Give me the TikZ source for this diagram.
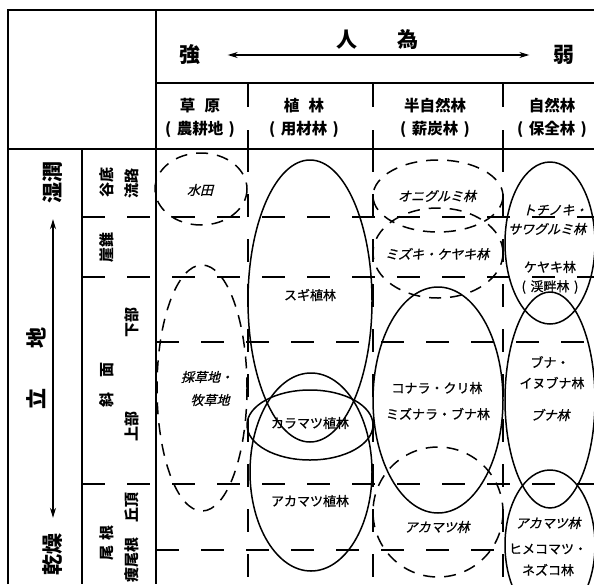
\documentclass[tikz,border=0pt]{standalone}
\usepackage{fontspec}
\setmainfont{Noto Sans CJK JP}
\newfontfamily\mediumjp[FakeBold=0.8]{Noto Sans CJK JP}
\newfontfamily\slantjp[FakeSlant=0.25, FakeBold=0.8]{Noto Sans CJK JP}
\usetikzlibrary{arrows.meta}

\tikzset{
  frame/.style={line width=1.7pt},
  gridline/.style={line width=1.8pt, dash pattern=on 23pt off 22pt},
  zone/.style={line width=1.5pt},
  zonedash/.style={line width=1.5pt, dash pattern=on 12pt off 9pt},
  celltext/.style={inner sep=0pt, font=\fontsize{13}{15}\selectfont\mediumjp},
  cellslant/.style={inner sep=0pt, font=\fontsize{13}{15}\selectfont\slantjp},
  headtext/.style={inner sep=0pt, font=\fontsize{15.5}{17}\selectfont\bfseries},
  bigtext/.style={inner sep=0pt, font=\fontsize{21}{23}\selectfont\bfseries},
  sidetext/.style={inner sep=0pt, rotate=90, font=\fontsize{15}{17}\selectfont\bfseries},
  sidebig/.style={inner sep=0pt, rotate=90, font=\fontsize{21}{23}\selectfont\bfseries},
  axis/.style={line width=1.3pt, {Stealth[length=10pt,width=6pt]}-{Stealth[length=10pt,width=6pt]}},
}
\newcommand\paren[1]{(\hspace{0.35em}#1\hspace{0.35em})}

\begin{document}
\begin{tikzpicture}[x=1pt, y=-1pt]

\clip (0,0) rectangle (594,584);

%% frame
\draw[frame] (8,584) -- (8,10) -- (594,10);
\draw[frame] (156,10) -- (156,584);
\draw[frame] (156,83) -- (594,83);
\draw[frame] (8,149) -- (594,149);
\draw[frame] (82,149) -- (82,584);

%% header ticks
\foreach \cx in {248,373,503}
  \draw[frame] (\cx,83) -- (\cx,107) (\cx,130) -- (\cx,149);

%% dashed grid
\foreach \cx in {248,373,503}
  \draw[gridline] (\cx,149) -- (\cx,584);
\foreach \ry in {217,277,484}
  \draw[gridline] (82,\ry) -- (594,\ry);
\draw[gridline] (156,342) -- (594,342);
\draw[gridline] (156,550) -- (503,550);

%% top header
\node[bigtext] (strong) at (190,55) {強};
\node[bigtext] (weak) at (564,55) {弱};
\node[bigtext] (human) at (347,40) {人};
\node[bigtext] (act) at (408,40) {為};
\draw[axis, shorten <=27pt, shorten >=24pt] (strong.east) -- (weak.west);

\node[headtext] (grass) at (200,106) {草\hspace{0.6em}原};
\node[headtext] (grassuse) at (200,129) {\paren{農耕地}};
\node[headtext] (plant) at (304,106) {植\hspace{0.6em}林};
\node[headtext] (plantuse) at (304,129) {\paren{用材林}};
\node[headtext] (semi) at (435,106) {半自然林};
\node[headtext] (semiuse) at (435,129) {\paren{薪炭林}};
\node[headtext] (natural) at (552,106) {自然林};
\node[headtext] (naturaluse) at (552,129) {\paren{保全林}};

%% side labels
\node[sidebig] (wet) at (53,182) {湿潤};
\node[sidebig] (dry) at (53,554) {乾燥};
\node[sidebig] (site1) at (36,338) {地};
\node[sidebig] (site2) at (36,399) {立};
\draw[axis, shorten <=16pt, shorten >=15pt] (wet.west) -- (dry.east);

\node[sidetext] (valley) at (107,182) {谷底};
\node[sidetext] (stream) at (132,183) {流路};
\node[sidetext] (talus) at (107,247) {崖錐};
\node[sidetext] (slope) at (107,385) {斜\hspace{1em}面};
\node[sidetext] (lower) at (132,322) {下部};
\node[sidetext] (upper) at (132,426) {上部};
\node[sidetext] (ridge) at (107,543) {尾\hspace{0.3em}根};
\node[sidetext] (hilltop) at (132,507) {丘頂};
\node[sidetext] (thinridge) at (132,560) {痩尾根};

%% grassland
\draw[zonedash] (201,189) ellipse [x radius=46, y radius=36];
\draw[zonedash] (202,388) ellipse [x radius=45, y radius=123];
\node[cellslant] (paddy) at (200,190) {水田};
\node[cellslant] (meadow1) at (207,377) {採草地・};
\node[cellslant] (meadow2) at (210,400) {牧草地};

%% plantation
\draw[zone] (310,301) ellipse [x radius=62, y radius=141];
\draw[zone] (310,425) ellipse [x radius=63, y radius=35];
\draw[zone] (311,472) ellipse [x radius=61, y radius=99];
\node[celltext] (sugi) at (310,295) {スギ植林};
\node[celltext] (karamatsu) at (310,423) {カラマツ植林};
\node[celltext] (akamatsu1) at (310,501) {アカマツ植林};

%% semi-natural
\draw[zonedash] (438,196) ellipse [x radius=65, y radius=36];
\draw[zonedash] (438,253) ellipse [x radius=65, y radius=45];
\draw[zone] (438,400) ellipse [x radius=65, y radius=113];
\draw[zonedash] (438,512) ellipse [x radius=65, y radius=65];
\node[cellslant] (onigurumi) at (437,196) {オニグルミ林};
\node[cellslant] (mizuki) at (437,254) {ミズキ・ケヤキ林};
\node[celltext] (konara) at (437,388) {コナラ・クリ林};
\node[celltext] (mizunara) at (438,414) {ミズナラ・ブナ林};
\node[cellslant] (akamatsu2) at (437,527) {アカマツ林};

%% natural
\draw[zone] (550,243) ellipse [x radius=45, y radius=81];
\draw[zone] (550,400) ellipse [x radius=45, y radius=108];
\draw[zone] (550,545) ellipse [x radius=45, y radius=75];
\node[cellslant] (tochinoki) at (555,210) {トチノキ・};
\node[cellslant] (sawagurumi) at (547,229) {サワグルミ林};
\node[celltext] (keyaki) at (550,267) {ケヤキ林};
\node[celltext] (riparian) at (550,287) {\paren{渓畔林}};
\node[celltext] (buna1) at (550,362) {ブナ・};
\node[celltext] (inubuna) at (552,383) {イヌブナ林};
\node[cellslant] (buna2) at (550,415) {ブナ林};
\node[cellslant] (akamatsu3) at (548,523) {アカマツ林};
\node[celltext] (himekomatsu) at (548,549) {ヒメコマツ・};
\node[celltext] (nezuko) at (548,570) {ネズコ林};

\end{tikzpicture}
\end{document}
